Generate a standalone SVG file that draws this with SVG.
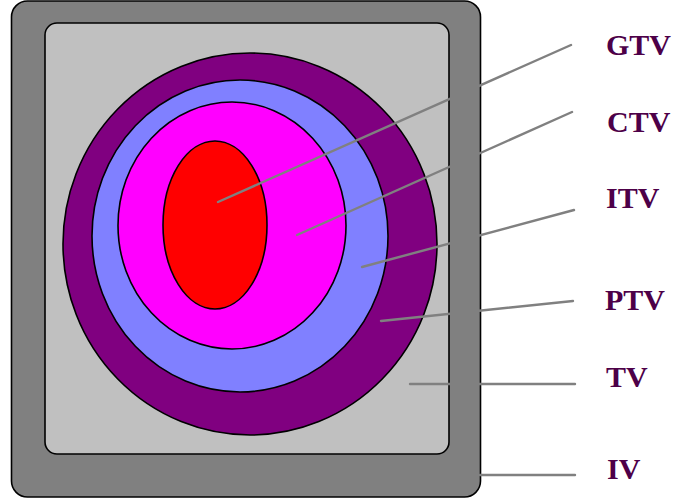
<svg xmlns="http://www.w3.org/2000/svg" width="679" height="502" viewBox="0 0 679 502">
<style>
.sh{stroke:#000;stroke-width:1.6}
.lbl{font-family:"Liberation Serif","DejaVu Serif",serif;font-weight:bold;font-size:30px;fill:#4d0048}
.ln{stroke:#808080;stroke-width:2.4;fill:none;stroke-linecap:round}
</style>
<rect width="679" height="502" fill="#fff"/>
<g id="IV"><rect class="sh" x="11.5" y="1" width="469" height="496" rx="16" fill="#808080"/></g>
<g id="TV"><rect class="sh" x="45" y="23" width="404" height="431" rx="12" fill="#c0c0c0"/></g>
<g id="PTV"><ellipse class="sh" cx="250" cy="244" rx="187" ry="191" fill="#800080"/></g>
<g id="ITV"><ellipse class="sh" cx="240" cy="236" rx="148" ry="156" fill="#8080ff"/></g>
<g id="CTV"><ellipse class="sh" cx="232" cy="225.5" rx="114" ry="123.5" fill="#ff00ff"/></g>
<g id="GTV"><ellipse class="sh" cx="215" cy="225" rx="52" ry="84" fill="#ff0000"/></g>
<g id="connectors">
<line class="ln" x1="218" y1="202" x2="571" y2="45"/>
<line class="ln" x1="297" y1="235" x2="572" y2="112"/>
<line class="ln" x1="362" y1="267" x2="574" y2="210"/>
<line class="ln" x1="381" y1="321" x2="573" y2="301"/>
<line class="ln" x1="410" y1="384" x2="575" y2="384"/>
<line class="ln" x1="480" y1="475" x2="575" y2="475"/>
</g>
<g id="labels">
<text class="lbl" x="606" y="55">GTV</text>
<text class="lbl" x="607" y="132">CTV</text>
<text class="lbl" x="606" y="208">ITV</text>
<text class="lbl" x="605" y="310">PTV</text>
<text class="lbl" x="606" y="387">TV</text>
<text class="lbl" x="607" y="479">IV</text>
</g>
</svg>
